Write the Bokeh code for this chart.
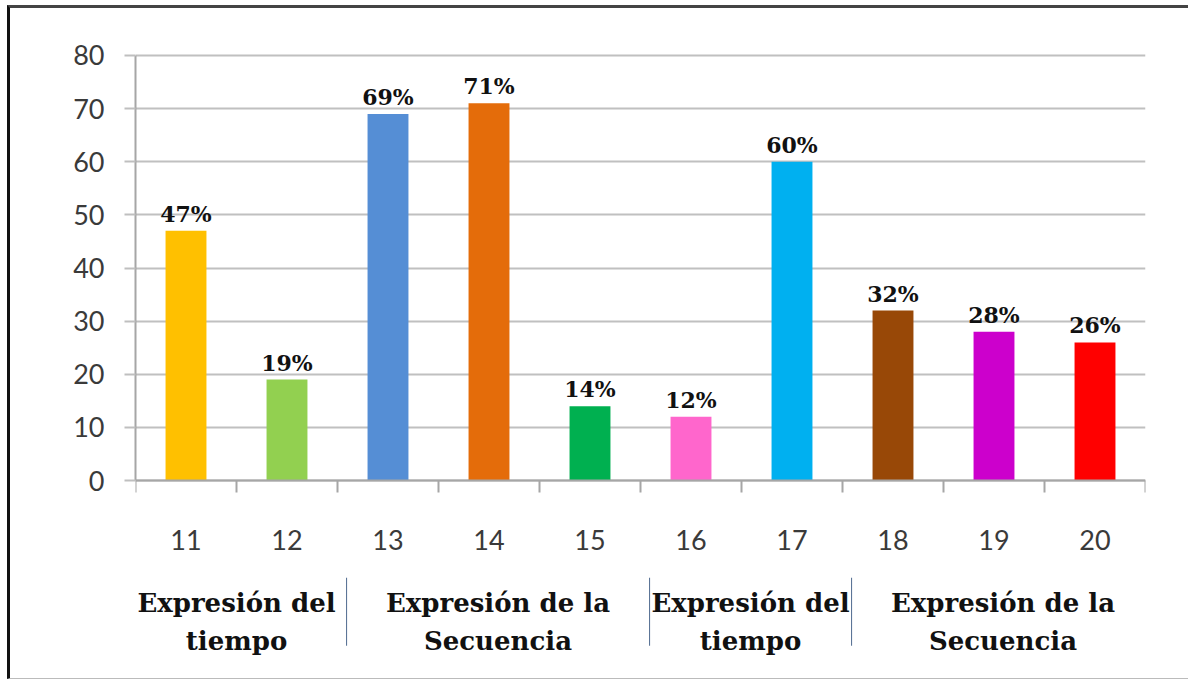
from bokeh.plotting import figure
from bokeh.models import ColumnDataSource, FixedTicker, LinearAxis, Range1d, Grid
from bokeh.core.properties import value
from bokeh.embed import file_html
from bokeh.resources import INLINE

# ---- data ----
categories = ["11", "12", "13", "14", "15", "16", "17", "18", "19", "20"]
values = [47, 19, 69, 71, 14, 12, 60, 32, 28, 26]
bar_colors = ["#FFC000", "#92D050", "#558ED5", "#E46C0A", "#00B050",
              "#FF66CC", "#00B0F0", "#984807", "#CC00CC", "#FF0000"]
y_ticks = [0, 10, 20, 30, 40, 50, 60, 70, 80]
group_labels = ["Expresión del\ntiempo", "Expresión de la\nSecuencia",
                "Expresión del\ntiempo", "Expresión de la\nSecuencia"]
group_members = [["11", "12"], ["13", "14", "15"], ["16", "17"], ["18", "19", "20"]]

# ---- derived ----
xs = [int(c) for c in categories]
boundaries = [x - 0.5 for x in xs] + [xs[-1] + 0.5]
pct = [f"{v}%" for v in values]
group_x = [sum(int(c) for c in g) / len(g) for g in group_members]
sep_x = [int(g[-1]) + 0.5 for g in group_members[:-1]]

SERIF = value("DejaVu Serif")

p = figure(width=1181, height=674,
           x_range=Range1d(10.5, 20.5), y_range=Range1d(-35.76, 81.88),
           x_axis_type=None, y_axis_type=None,
           output_backend="svg", toolbar_location=None,
           min_border_left=125, min_border_right=46,
           min_border_top=37, min_border_bottom=12)
p.outline_line_color = None
p.background_fill_color = "white"
p.border_fill_color = "white"
p.styles = {"border-left": "3px solid #111111",
            "border-top": "3px solid #444444",
            "border-bottom": "1px solid #BBBBBB",
            "margin-left": "7px", "margin-top": "5px"}

yaxis = LinearAxis(ticker=FixedTicker(ticks=y_ticks), bounds=(0, 80))
yaxis.axis_line_color = "#A6A6A6"
yaxis.axis_line_width = 2
yaxis.major_tick_out = 11
yaxis.major_tick_in = 0
yaxis.major_tick_line_color = "#BFBFBF"
yaxis.major_tick_line_width = 2
yaxis.minor_tick_out = 0
yaxis.minor_tick_in = 0
yaxis.major_label_standoff = 20
yaxis.major_label_text_font = "Lato"
yaxis.major_label_text_font_size = "27px"
yaxis.major_label_text_color = "#3A3A3A"
p.add_layout(yaxis, "left")

xaxis = LinearAxis(ticker=FixedTicker(ticks=xs, minor_ticks=boundaries),
                   fixed_location=0)
xaxis.major_label_overrides = {x: c for x, c in zip(xs, categories)}
xaxis.axis_line_color = "#A6A6A6"
xaxis.axis_line_width = 2
xaxis.major_tick_out = 0
xaxis.major_tick_in = 0
xaxis.minor_tick_out = 12
xaxis.minor_tick_in = 0
xaxis.minor_tick_line_color = "#A6A6A6"
xaxis.minor_tick_line_width = 2
xaxis.major_label_standoff = 37
xaxis.major_label_text_font = "Lato"
xaxis.major_label_text_font_size = "27px"
xaxis.major_label_text_color = "#3A3A3A"
p.add_layout(xaxis, "below")

grid = Grid(dimension=1, ticker=FixedTicker(ticks=y_ticks))
grid.grid_line_color = "#C0C0C0"
grid.grid_line_width = 2
p.add_layout(grid)

src = ColumnDataSource(dict(x=xs, top=values, color=bar_colors, label=pct))
p.vbar(x="x", top="top", bottom=0, width=0.405, fill_color="color",
       line_color=None, source=src)
p.text(x="x", y="top", text="label", source=src, text_font=SERIF,
       text_font_style="bold", text_font_size="22px", text_align="center",
       text_baseline="alphabetic", y_offset=-17, text_color="#111111")

gsrc = ColumnDataSource(dict(x=group_x, text=group_labels,
                             y=[-26.6] * len(group_x),
                             xo=[0, 9, 9, 9]))
p.text(x="x", y="y", text="text", source=gsrc, x_offset="xo", text_font=SERIF,
       text_font_style="bold", text_font_size="26px", text_align="center",
       text_baseline="middle", text_line_height=1.27, text_color="#111111")

p.segment(x0=[s + 0.09 for s in sep_x], x1=[s + 0.09 for s in sep_x],
          y0=[-18.3] * len(sep_x), y1=[-31.1] * len(sep_x),
          line_color="#4F6A8F", line_width=1)

open("out.html", "w").write(file_html(p, INLINE))
